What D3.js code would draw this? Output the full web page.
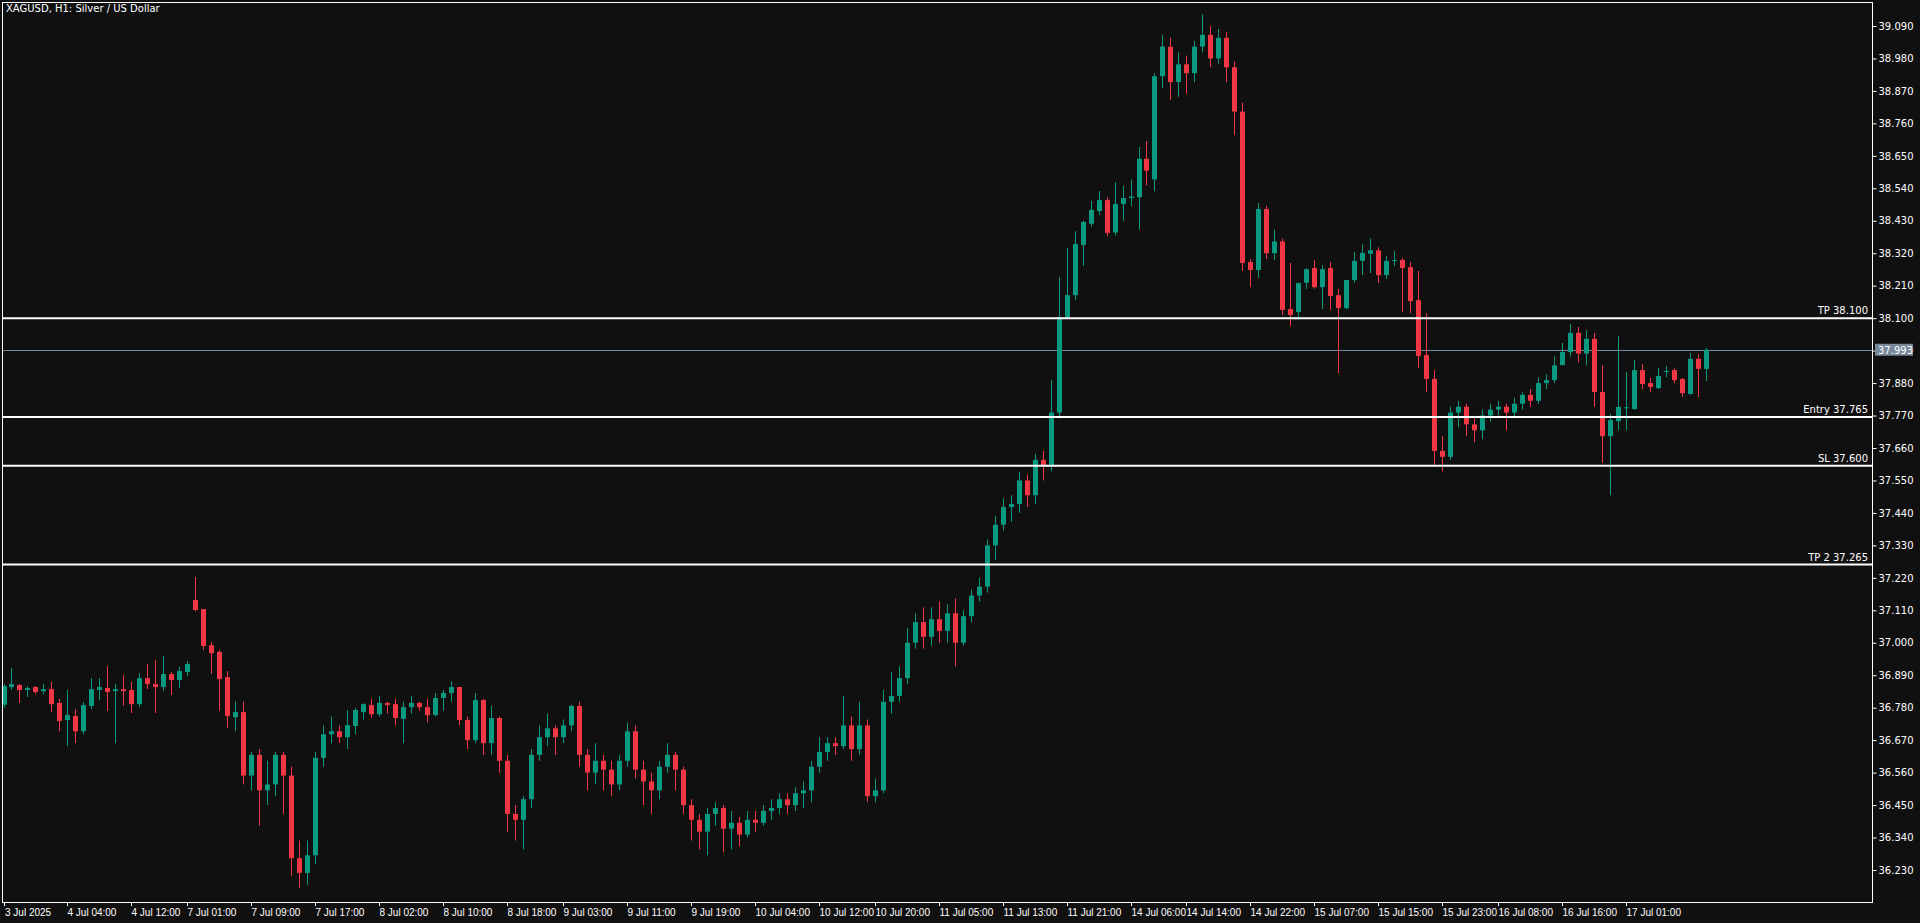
<!DOCTYPE html>
<html>
<head>
<meta charset="utf-8">
<script src="https://cdn.jsdelivr.net/npm/d3@7"></script>
<style>
  html, body { margin: 0; padding: 0; background: #101010; overflow: hidden; }
  text { font-family: "DejaVu Sans", sans-serif; font-size: 10px; fill: #ffffff; }
</style>
</head>
<body>
<svg id="chart" width="1920" height="923"></svg>
<script>
// Hourly candles [open, high, low, close]
const candles = [
  [36.79,36.86,36.78,36.853],[36.850,36.914,36.840,36.860],[36.857,36.860,36.796,36.840],[36.840,36.853,36.816,36.847],
  [36.850,36.853,36.826,36.833],[36.836,36.860,36.826,36.843],[36.843,36.867,36.765,36.792],[36.796,36.81,36.70,36.735],
  [36.738,36.840,36.65,36.755],[36.752,36.775,36.66,36.70],[36.70,36.799,36.69,36.789],[36.786,36.880,36.775,36.843],
  [36.840,36.880,36.806,36.850],[36.847,36.921,36.769,36.833],[36.836,36.860,36.66,36.843],[36.843,36.890,36.786,36.836],
  [36.840,36.867,36.762,36.792],[36.792,36.897,36.782,36.880],[36.880,36.928,36.843,36.860],[36.860,36.941,36.762,36.850],
  [36.850,36.955,36.836,36.894],[36.894,36.901,36.823,36.874],[36.874,36.918,36.847,36.904],[36.901,36.938,36.887,36.928],
  [37.145,37.223,37.107,37.111],[37.114,37.114,36.975,36.989],[36.992,37.002,36.894,36.965],[36.969,36.975,36.77,36.877],
  [36.884,36.904,36.711,36.752],[36.748,36.802,36.70,36.765],[36.765,36.80,36.52,36.55],[36.55,36.63,36.50,36.62],
  [36.62,36.64,36.38,36.50],[36.50,36.60,36.45,36.52],[36.52,36.63,36.48,36.62],[36.62,36.63,36.42,36.55],
  [36.55,36.58,36.21,36.27],[36.27,36.33,36.17,36.22],[36.22,36.33,36.18,36.28],[36.28,36.63,36.25,36.61],
  [36.61,36.72,36.58,36.69],[36.69,36.75,36.66,36.70],[36.70,36.72,36.66,36.68],[36.68,36.772,36.64,36.721],
  [36.718,36.78,36.69,36.772],[36.765,36.795,36.74,36.792],[36.789,36.81,36.745,36.758],[36.758,36.82,36.75,36.796],
  [36.796,36.80,36.76,36.789],[36.792,36.81,36.72,36.745],[36.742,36.80,36.66,36.782],[36.782,36.82,36.76,36.796],
  [36.796,36.80,36.77,36.782],[36.782,36.81,36.73,36.755],[36.755,36.83,36.75,36.813],[36.813,36.84,36.77,36.830],
  [36.830,36.87,36.80,36.850],[36.850,36.85,36.72,36.738],[36.738,36.75,36.64,36.67],[36.67,36.83,36.66,36.806],
  [36.806,36.81,36.62,36.66],[36.66,36.786,36.62,36.745],[36.745,36.75,36.56,36.60],[36.60,36.62,36.36,36.42],
  [36.42,36.45,36.33,36.40],[36.40,36.48,36.30,36.47],[36.47,36.64,36.44,36.62],[36.62,36.72,36.60,36.68],
  [36.68,36.76,36.65,36.71],[36.71,36.72,36.62,36.68],[36.68,36.74,36.66,36.72],[36.72,36.79,36.70,36.786],
  [36.786,36.80,36.58,36.62],[36.62,36.64,36.50,36.56],[36.56,36.66,36.52,36.60],[36.60,36.62,36.50,36.57],
  [36.57,36.60,36.48,36.52],[36.52,36.62,36.50,36.60],[36.60,36.73,36.58,36.70],[36.70,36.72,36.54,36.57],
  [36.57,36.60,36.45,36.53],[36.53,36.56,36.42,36.50],[36.50,36.60,36.47,36.58],[36.58,36.66,36.56,36.62],
  [36.62,36.63,36.50,36.57],[36.57,36.58,36.42,36.45],[36.45,36.47,36.33,36.40],[36.40,36.42,36.30,36.36],
  [36.36,36.44,36.28,36.42],[36.42,36.46,36.38,36.44],[36.44,36.45,36.29,36.37],[36.37,36.43,36.30,36.39],
  [36.39,36.41,36.31,36.35],[36.35,36.43,36.34,36.40],[36.40,36.43,36.36,36.39],[36.39,36.45,36.38,36.43],
  [36.43,36.47,36.40,36.44],[36.44,36.49,36.42,36.47],[36.47,36.49,36.42,36.45],[36.45,36.51,36.43,36.49],
  [36.49,36.53,36.44,36.50],[36.50,36.60,36.46,36.58],[36.58,36.68,36.56,36.63],[36.63,36.68,36.60,36.66],
  [36.66,36.68,36.62,36.65],[36.65,36.82,36.64,36.72],[36.72,36.75,36.60,36.64],[36.64,36.80,36.62,36.72],
  [36.72,36.74,36.46,36.48],[36.48,36.54,36.46,36.50],[36.50,36.84,36.49,36.80],[36.80,36.90,36.76,36.82],
  [36.82,36.92,36.80,36.88],[36.88,37.05,36.86,37.00],[37.00,37.10,36.98,37.07],[37.07,37.12,36.98,37.02],
  [37.02,37.12,36.99,37.08],[37.08,37.14,37.00,37.04],[37.04,37.13,37.00,37.10],[37.10,37.15,36.92,37.00],
  [37.00,37.11,36.99,37.09],[37.09,37.18,37.07,37.16],[37.16,37.22,37.14,37.19],[37.19,37.35,37.17,37.33],
  [37.33,37.43,37.28,37.40],[37.40,37.49,37.38,37.46],[37.46,37.50,37.41,37.47],[37.47,37.58,37.44,37.55],
  [37.55,37.57,37.46,37.50],[37.50,37.64,37.47,37.62],[37.62,37.65,37.55,37.60],[37.60,37.89,37.58,37.78],
  [37.78,38.24,37.76,38.104],[38.104,38.338,38.10,38.178],[38.178,38.395,38.162,38.351],[38.348,38.43,38.277,38.426],
  [38.42,38.497,38.41,38.467],[38.463,38.531,38.45,38.500],[38.500,38.51,38.378,38.389],[38.39,38.56,38.38,38.487],
  [38.487,38.548,38.43,38.507],[38.507,38.57,38.48,38.512],[38.51,38.68,38.40,38.64],[38.64,38.70,38.55,38.60],
  [38.57,38.93,38.53,38.92],[38.92,39.06,38.88,39.02],[39.02,39.05,38.84,38.90],[38.90,39.00,38.85,38.96],
  [38.96,38.99,38.86,38.93],[38.93,39.04,38.90,39.02],[39.02,39.13,39.00,39.06],[39.06,39.09,38.95,38.98],
  [38.98,39.08,38.96,39.05],[39.05,39.07,38.90,38.95],[38.95,38.97,38.72,38.80],[38.80,38.83,38.26,38.287],
  [38.29,38.30,38.205,38.263],[38.263,38.49,38.236,38.47],[38.47,38.48,38.30,38.32],[38.32,38.40,38.297,38.36],
  [38.36,38.37,38.111,38.128],[38.131,38.287,38.073,38.111],[38.121,38.22,38.094,38.219],[38.22,38.27,38.199,38.266],
  [38.270,38.297,38.20,38.205],[38.205,38.28,38.131,38.266],[38.270,38.29,38.128,38.175],[38.178,38.199,37.914,38.134],
  [38.134,38.23,38.13,38.229],[38.229,38.324,38.22,38.294],[38.294,38.35,38.246,38.321],[38.318,38.37,38.253,38.33],
  [38.33,38.34,38.219,38.246],[38.246,38.311,38.233,38.294],[38.294,38.328,38.277,38.297],[38.297,38.304,38.121,38.270],
  [38.273,38.29,38.117,38.158],[38.161,38.260,37.93,37.972],[37.975,38.117,37.85,37.894],[37.894,37.924,37.60,37.65],
  [37.65,37.70,37.58,37.63],[37.63,37.80,37.62,37.78],[37.78,37.82,37.73,37.80],[37.80,37.81,37.70,37.74],
  [37.74,37.77,37.68,37.72],[37.72,37.79,37.69,37.77],[37.77,37.81,37.75,37.79],[37.79,37.82,37.77,37.80],
  [37.80,37.81,37.72,37.78],[37.78,37.83,37.76,37.81],[37.81,37.85,37.79,37.84],[37.84,37.86,37.80,37.82],
  [37.82,37.90,37.81,37.88],[37.88,37.91,37.86,37.89],[37.89,37.97,37.88,37.94],[37.941,38.016,37.94,37.985],
  [37.985,38.08,37.97,38.05],[38.05,38.07,37.95,37.98],[37.98,38.06,37.94,38.03],[38.03,38.05,37.80,37.85],
  [37.85,37.94,37.61,37.70],[37.70,37.775,37.50,37.755],[37.751,38.039,37.72,37.799],[37.795,37.917,37.72,37.798],
  [37.792,37.958,37.79,37.924],[37.924,37.944,37.860,37.877],[37.880,37.897,37.850,37.867],[37.863,37.931,37.860,37.904],
  [37.918,37.938,37.900,37.921],[37.924,37.93,37.88,37.890],[37.894,37.897,37.833,37.846],[37.843,37.982,37.840,37.962],
  [37.962,37.978,37.833,37.928],[37.928,37.999,37.887,37.993]
];

const priceTicks = [39.090,38.980,38.870,38.760,38.650,38.540,38.430,38.320,38.210,38.100,37.990,37.880,37.770,
  37.660,37.550,37.440,37.330,37.220,37.110,37.000,36.890,36.780,36.670,36.560,36.450,36.340,36.230];

const timeLabels = ["3 Jul 2025","4 Jul 04:00","4 Jul 12:00","7 Jul 01:00","7 Jul 09:00","7 Jul 17:00","8 Jul 02:00",
  "8 Jul 10:00","8 Jul 18:00","9 Jul 03:00","9 Jul 11:00","9 Jul 19:00","10 Jul 04:00","10 Jul 12:00","10 Jul 20:00",
  "11 Jul 05:00","11 Jul 13:00","11 Jul 21:00","14 Jul 06:00","14 Jul 14:00","14 Jul 22:00","15 Jul 07:00",
  "15 Jul 15:00","15 Jul 23:00","16 Jul 08:00","16 Jul 16:00","17 Jul 01:00"];
const labelCandles = [0,8,16,23,31,39,47,55,63,70,78,86,94,102,109,117,125,133,141,148,156,164,172,180,187,195,203];

const levelNames = ["TP 38.100","Entry 37.765","SL 37.600","TP 2 37.265"];
const levelPrices = [38.100, 37.765, 37.600, 37.265];
const lastPrice = 37.993;

const svg = d3.select("#chart");
const plot = {left: 2, top: 2, right: 1872, bottom: 902};
const up = "#089981", down = "#f23645";

const x = d3.scaleLinear().domain([0, candles.length - 1]).range([3.5, 1706]);
const y = d3.scaleLinear().domain([36.230, 39.090]).range([870, 26]);

svg.append("rect").attr("width", 1920).attr("height", 923).attr("fill", "#101010");

// title
svg.append("text").attr("x", 6).attr("y", 12).attr("font-size", "10.5px").text("XAGUSD, H1:  Silver / US Dollar");

// current price line
svg.append("line").attr("x1", plot.left).attr("x2", plot.right)
  .attr("y1", Math.round(y(lastPrice)) + 0.5).attr("y2", Math.round(y(lastPrice)) + 0.5)
  .attr("stroke", "#778899").attr("stroke-width", 1);

// candles
const g = svg.append("g");
g.selectAll("line.wick").data(candles).enter().append("line")
  .attr("x1", (d, i) => Math.round(x(i)) + 0.5).attr("x2", (d, i) => Math.round(x(i)) + 0.5)
  .attr("y1", d => y(d[1])).attr("y2", d => y(d[2]))
  .attr("stroke", d => d[3] >= d[0] ? up : down).attr("stroke-width", 1);
g.selectAll("rect").data(candles).enter().append("rect")
  .attr("x", (d, i) => Math.round(x(i)) - 2)
  .attr("width", 5)
  .attr("y", d => y(Math.max(d[0], d[3])))
  .attr("height", d => Math.max(1, Math.abs(y(d[0]) - y(d[3]))))
  .attr("fill", d => d[3] >= d[0] ? up : down);

// level lines
levelPrices.forEach((p, i) => {
  svg.append("line").attr("x1", plot.left).attr("x2", plot.right)
    .attr("y1", y(p)).attr("y2", y(p)).attr("stroke", "#ffffff").attr("stroke-width", 2);
  svg.append("text").attr("x", plot.right - 4).attr("y", y(p) - 4)
    .attr("text-anchor", "end").text(levelNames[i]);
});

// frame
svg.append("rect").attr("x", plot.left + 0.5).attr("y", plot.top + 0.5)
  .attr("width", plot.right - plot.left).attr("height", plot.bottom - plot.top)
  .attr("fill", "none").attr("stroke", "#ffffff").attr("stroke-width", 1);

// price axis
const yAxis = d3.axisRight(y).tickValues(priceTicks).tickFormat(d3.format(".3f")).tickSize(4).tickPadding(2);
const ya = svg.append("g").attr("transform", `translate(${plot.right + 0.5},0)`).call(yAxis);
ya.select(".domain").remove();
ya.selectAll("line").attr("stroke", "#ffffff");
ya.selectAll("text").attr("fill", "#ffffff").style("font-size", "10px").style("font-family", "DejaVu Sans");

// last price tag
const tag = svg.append("g").attr("transform", `translate(${plot.right + 3},${y(lastPrice)})`);
tag.append("rect").attr("x", 0).attr("y", -6).attr("width", 38).attr("height", 12).attr("fill", "#778899");
tag.append("text").attr("x", 3).attr("y", 4).text(d3.format(".3f")(lastPrice));

// time axis
const tx = svg.append("g");
labelCandles.forEach((c, i) => {
  const xp = Math.round(x(c)) + 0.5;
  tx.append("line").attr("x1", xp).attr("x2", xp).attr("y1", plot.bottom).attr("y2", plot.bottom + 4).attr("stroke", "#ffffff");
  tx.append("text").attr("x", Math.max(xp, 5)).attr("y", 916)
    .style("font-family", "'Liberation Sans', sans-serif").style("font-size", "10px").text(timeLabels[i]);
});
</script>
</body>
</html>
